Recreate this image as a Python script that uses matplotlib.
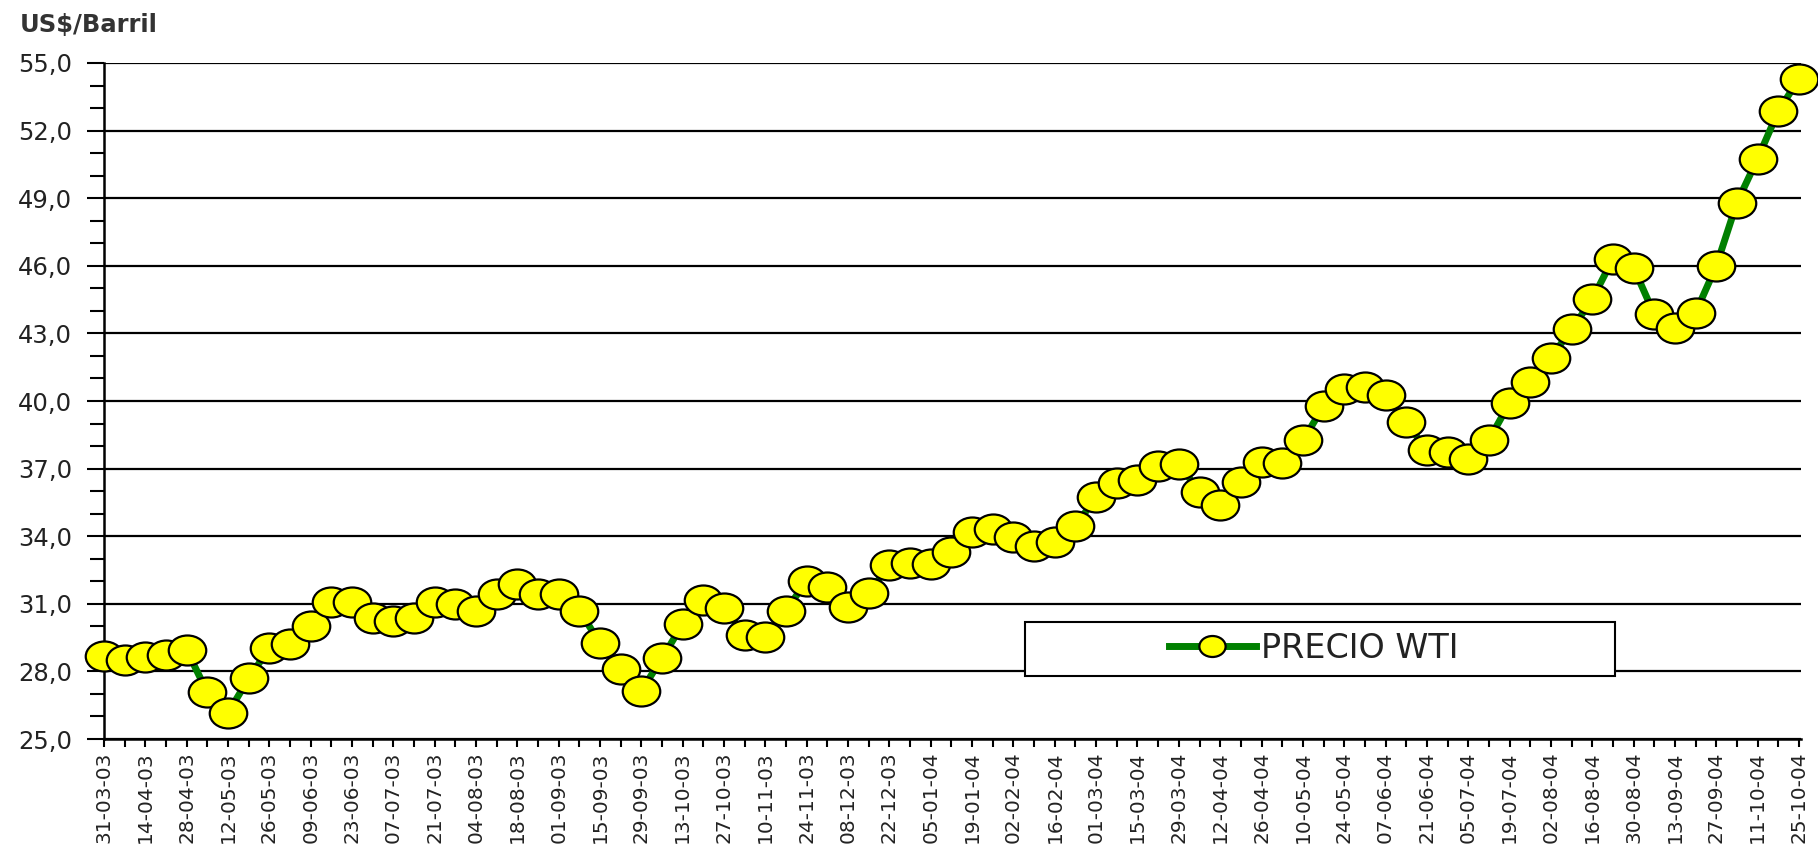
import matplotlib
matplotlib.use("Agg")
import matplotlib.pyplot as plt
from matplotlib.markers import MarkerStyle
from matplotlib.patches import Rectangle
from matplotlib.path import Path
from matplotlib.ticker import FixedLocator, FuncFormatter
from matplotlib.transforms import Affine2D

# weekly WTI price, 31-03-03 .. 25-10-04
precio_wti = [
    28.70, 28.51, 28.63, 28.75, 28.95, 27.07, 26.15, 27.69, 29.03, 29.22,
    30.03, 31.07, 31.10, 30.36, 30.23, 30.36, 31.07, 31.00, 30.67, 31.44,
    31.89, 31.44, 31.44, 30.70, 29.25, 28.11, 27.15, 28.58, 30.11, 31.19,
    30.80, 29.62, 29.52, 30.70, 32.03, 31.74, 30.85, 31.47, 32.73, 32.80,
    32.77, 33.29, 34.18, 34.33, 33.96, 33.56, 33.74, 34.45, 35.74, 36.34,
    36.50, 37.10, 37.22, 35.96, 35.40, 36.40, 37.28, 37.23, 38.25, 39.76,
    40.55, 40.60, 40.25, 39.07, 37.81, 37.75, 37.44, 38.27, 39.91, 40.85,
    41.93, 43.18, 44.51, 46.31, 45.92, 43.85, 43.26, 43.92, 45.99, 48.80,
    50.75, 52.86, 54.29,
]

# labels shown every second week
fechas = [
    "31-03-03", "14-04-03", "28-04-03", "12-05-03", "26-05-03", "09-06-03",
    "23-06-03", "07-07-03", "21-07-03", "04-08-03", "18-08-03", "01-09-03",
    "15-09-03", "29-09-03", "13-10-03", "27-10-03", "10-11-03", "24-11-03",
    "08-12-03", "22-12-03", "05-01-04", "19-01-04", "02-02-04", "16-02-04",
    "01-03-04", "15-03-04", "29-03-04", "12-04-04", "26-04-04", "10-05-04",
    "24-05-04", "07-06-04", "21-06-04", "05-07-04", "19-07-04", "02-08-04",
    "16-08-04", "30-08-04", "13-09-04", "27-09-04", "11-10-04", "25-10-04",
]

y_ticks = [25, 28, 31, 34, 37, 40, 43, 46, 49, 52, 55]

fig = plt.figure(figsize=(18.18, 8.46), dpi=100)
ax = fig.add_axes([104 / 1818, 107 / 846, 1697 / 1818, 676 / 846])

# slightly flattened round marker
ellipse = Affine2D().scale(1.0, 0.8).transform_path(Path.unit_circle())
marca = MarkerStyle(ellipse)

x = list(range(len(precio_wti)))
ax.plot(x, precio_wti, color="#008000", lw=5, marker=marca, markersize=27,
        markerfacecolor="#ffff00", markeredgecolor="black", markeredgewidth=1.6,
        label="PRECIO WTI", clip_on=False, zorder=4)

ax.set_xlim(0, 82.1)
ax.set_ylim(25, 55)

ax.set_yticks(y_ticks)
ax.yaxis.set_minor_locator(FixedLocator(range(25, 56)))
ax.yaxis.set_major_formatter(FuncFormatter(lambda v, p: f"{v:.1f}".replace(".", ",")))
ax.tick_params(axis="y", which="major", length=12, width=1.5, pad=11, labelsize=17.5,
               labelcolor="#222222")
ax.tick_params(axis="y", which="minor", length=10, width=1.5)

ax.set_xticks(range(0, len(precio_wti), 2))
ax.set_xticklabels(fechas, rotation=90)
ax.xaxis.set_minor_locator(FixedLocator(range(1, len(precio_wti), 2)))
ax.tick_params(axis="x", which="both", length=6, width=1.5, pad=3, labelsize=14.5,
               labelcolor="#222222")

ax.grid(axis="y", which="major", color="black", lw=1.6)
ax.set_axisbelow(True)
for s in ["top", "right"]:
    ax.spines[s].set_visible(False)
for s in ["left", "bottom"]:
    ax.spines[s].set_linewidth(1.8)

# legend frame drawn separately so the entry can sit off-centre
caja = Rectangle((0.5427, 0.0932), 0.3477, 0.0799, transform=ax.transAxes,
                 facecolor="white", edgecolor="black", lw=1.5, zorder=2)
ax.add_patch(caja)
leg = ax.legend(loc="center left", bbox_to_anchor=(0.6276, 0.1346), frameon=False,
                fontsize=24, handlelength=2.6, handletextpad=0.15, borderpad=0,
                borderaxespad=0, markerscale=0.7, labelcolor="#222222")
leg.set_zorder(5)

fig.text(20 / 1818, 1 - 32 / 846, "US$/Barril", fontsize=17.5, fontweight="bold",
         color="#333333", va="baseline")

fig.savefig("out.png", dpi=100)
